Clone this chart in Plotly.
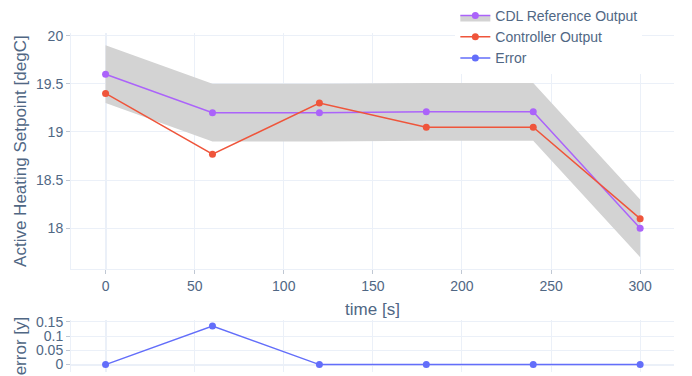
import plotly.graph_objects as go
from plotly.subplots import make_subplots

time_s = [0, 60, 120, 180, 240, 300]
cdl_reference = [19.6, 19.2, 19.2, 19.21, 19.21, 18.0]
controller_output = [19.4, 18.77, 19.3, 19.05, 19.05, 18.1]
tolerance = 0.3
error = [0, 0.135, 0, 0, 0, 0]

upper = [v + tolerance for v in cdl_reference]
lower = [v - tolerance for v in cdl_reference]

fig = make_subplots(rows=2, cols=1, row_heights=[0.85, 0.15], vertical_spacing=0.15)

band_grey = "rgb(211,211,211)"
fig.add_trace(go.Scatter(x=time_s, y=upper, mode="lines", line=dict(width=0, color=band_grey),
                         showlegend=False, hoverinfo="skip"), row=1, col=1)
fig.add_trace(go.Scatter(x=time_s, y=cdl_reference, mode="lines+markers", name="CDL Reference Output",
                         line=dict(color="#AB63FA", width=1.5), marker=dict(size=7),
                         fill="tonexty", fillcolor=band_grey), row=1, col=1)
fig.add_trace(go.Scatter(x=time_s, y=lower, mode="lines", line=dict(width=0, color=band_grey),
                         fill="tonexty", fillcolor=band_grey, showlegend=False, hoverinfo="skip"), row=1, col=1)
fig.add_trace(go.Scatter(x=time_s, y=controller_output, mode="lines+markers", name="Controller Output",
                         line=dict(color="#EF553B", width=1.5), marker=dict(size=7)), row=1, col=1)
fig.add_trace(go.Scatter(x=time_s, y=error, mode="lines+markers", name="Error",
                         line=dict(color="#636EFA", width=1.5), marker=dict(size=7)), row=2, col=1)

axis_common = dict(ticks="outside", ticklen=4, tickcolor="#C0C8D4", gridcolor="#EBF0F8",
                   zerolinecolor="#EBF0F8", linecolor="#EBF0F8", automargin=False)

fig.update_layout(
    template="plotly_white",
    width=692, height=376,
    margin=dict(l=71, r=18, t=33, b=4, autoexpand=False),
    font=dict(family="Liberation Sans, Arial, sans-serif", size=14, color="#506784"),
    legend=dict(xref="container", yref="container", x=0.658, y=1.015, xanchor="left", yanchor="top",
                bgcolor="white", font=dict(size=14), tracegroupgap=0, traceorder="normal",
                itemwidth=30),
    xaxis=dict(domain=[0, 1], range=[-19.4, 319], title=dict(text="time [s]", standoff=10), **axis_common),
    yaxis=dict(domain=[0.303, 1], range=[17.574, 20.028], title=dict(text="Active Heating Setpoint [degC]", standoff=4),
               tickvals=[18, 18.5, 19, 19.5, 20], **axis_common),
    xaxis2=dict(range=[-19.4, 319], showticklabels=False, ticks="", gridcolor="#EBF0F8",
                zerolinecolor="#EBF0F8", automargin=False),
    yaxis2=dict(domain=[0, 0.153], range=[-0.026, 0.156], tickvals=[0, 0.05, 0.1, 0.15],
                title=dict(text="error [y]", standoff=4), **axis_common),
)

fig.write_html("out.html", config={"displayModeBar": False},
               post_script="document.body.style.margin='0';")
